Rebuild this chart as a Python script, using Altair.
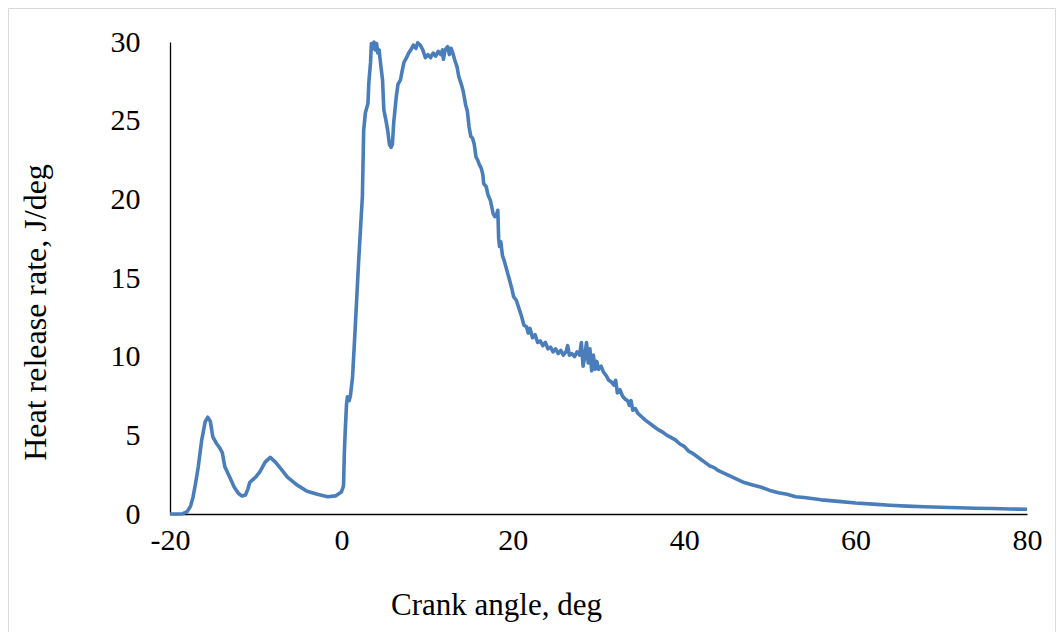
import altair as alt
import pandas as pd

crank_angle = [
    -20, -19, -18.5, -18, -17.6, -17.3, -17.0, -16.7, -16.3, -15.9, -15.6, -15.3, -15.0, -14.6,
    -14.2, -13.9, -13.6, -13.0, -12.5, -12.0, -11.6, -11.2, -10.9, -10.7, -10.4, -10.0, -9.5,
    -8.9, -8.3, -7.7, -7.1, -6.3, -5.2, -4.0, -2.8, -1.6, -0.7, 0.0, 0.2,
    0.25, 0.35, 0.45, 0.6, 0.7, 0.9, 1.05, 1.3, 1.6, 2.0, 2.45, 2.6, 2.8, 3.1, 3.2, 3.4, 3.5,
    3.7, 3.8, 3.95, 4.1, 4.25, 4.4, 4.6, 4.8, 4.95, 5.2, 5.4, 5.6, 5.8, 5.95, 6.1, 6.4, 6.6,
    6.9, 7.1, 7.3, 7.6, 7.85, 8.1, 8.4, 8.7, 8.9, 9.2, 9.5, 9.8, 10.1, 10.4, 10.7, 11.0, 11.3,
    11.6, 11.8, 11.9, 12.1, 12.4, 12.6, 12.8, 13.0, 13.2, 13.5, 13.7, 14.0, 14.2, 14.5, 14.7,
    14.9, 15.1, 15.3, 15.5, 15.7, 15.9, 16.1, 16.3, 16.5, 16.6, 16.9, 17.1, 17.4, 17.7, 17.9,
    18.1, 18.25, 18.35, 18.45, 18.6, 18.8, 19.0, 19.3, 19.6, 19.9, 20.1, 20.4, 20.7, 21.0,
    21.3, 21.6, 21.8, 22.0, 22.3, 22.6, 22.9, 23.2, 23.5, 23.8, 24.1, 24.4, 24.7, 25.0, 25.3,
    25.6, 25.9, 26.2, 26.4, 26.6, 26.9, 27.2, 27.5, 27.8, 28.0, 28.2, 28.4, 28.6, 28.8, 29.0,
    29.2, 29.4, 29.6, 29.8, 30.0, 30.3, 30.6, 30.9, 31.2, 31.5, 31.8, 32.0, 32.2, 32.5, 32.8,
    33.1, 33.4, 33.6, 33.8, 34.0, 34.3, 34.6, 35.0, 35.5, 36.0, 36.5, 37.0, 37.5, 38.0, 38.5,
    39.0, 39.5, 40.0, 40.5, 41.0, 41.5, 42.0, 42.5, 43.0, 43.5, 44.0, 45.0, 46.0, 47.0, 48.0,
    49.0, 50.0, 51.0, 52.0, 53.0, 54.0, 56.0, 58.0, 60.0, 62.0, 64.0, 66.0, 68.0, 70.0, 72.0,
    74.0, 76.0, 78.0, 80.0,
]

heat_release = [
    0, 0, 0.02, 0.15, 0.5, 1.1, 2.0, 3.0, 4.7, 5.85, 6.15, 5.9, 4.9, 4.5,
    4.2, 3.9, 3.0, 2.3, 1.7, 1.3, 1.15, 1.2, 1.6, 2.0, 2.15, 2.35, 2.7,
    3.3, 3.6, 3.3, 2.9, 2.35, 1.85, 1.45, 1.25, 1.1, 1.15, 1.4, 1.7,
    1.85, 4.0, 5.3, 7.0, 7.45, 7.2, 7.5, 8.7, 11.7, 15.95, 20.2, 24.4, 25.5, 26.1, 27.4, 28.7, 29.9,
    29.6, 30.0, 29.5, 29.9, 29.3, 29.5, 28.5, 27.6, 25.7, 25.0, 24.4, 23.5, 23.3, 23.5, 24.85, 26.5, 27.3,
    27.6, 28.2, 28.7, 29.0, 29.3, 29.5, 29.8, 29.6, 29.95, 29.8, 29.5, 29.0, 29.2, 29.0, 29.3, 29.1, 29.4,
    29.2, 29.5, 28.9, 29.5, 29.7, 29.2, 29.6, 29.3, 28.9, 28.4, 27.8, 27.3, 26.9, 26.0, 25.6,
    24.6, 24.0, 23.9, 23.5, 22.7, 22.5, 22.2, 22.0, 21.6, 21.0, 20.8, 20.3, 19.9, 19.1, 18.9,
    19.0, 19.3, 17.5, 17.0, 17.3, 16.4, 16.1, 15.5, 14.9, 14.3, 13.8, 13.6, 13.1, 12.6,
    12.0, 11.9, 11.5, 11.8, 11.2, 11.4, 10.9, 11.0, 10.7, 10.9, 10.5, 10.6, 10.3, 10.5, 10.2,
    10.4, 10.1, 10.3, 10.7, 10.1, 10.2, 10.0, 10.3, 10.1, 10.9, 9.4, 10.0, 10.9, 9.6, 10.5,
    9.1, 10.1, 9.2, 9.7, 9.2, 9.4, 9.0, 8.8, 8.5, 8.4, 8.2, 8.5, 7.7, 7.9, 7.5,
    7.3, 7.2, 6.9, 7.2, 6.6, 6.7, 6.4, 6.2, 5.95, 5.75, 5.55, 5.35, 5.2, 5.0, 4.85,
    4.7, 4.45, 4.3, 4.0, 3.85, 3.65, 3.45, 3.25, 3.05, 2.95, 2.75, 2.5, 2.25, 2.0, 1.85,
    1.7, 1.5, 1.35, 1.25, 1.1, 1.05, 0.9, 0.8, 0.7, 0.63, 0.56, 0.5, 0.46, 0.43, 0.4,
    0.37, 0.35, 0.32, 0.3,
]

x_ticks = [-20, 0, 20, 40, 60, 80]
y_ticks = [0, 5, 10, 15, 20, 25, 30]

df = pd.DataFrame({"angle": crank_angle, "hrr": heat_release, "order": list(range(len(crank_angle)))})

FONT = "Liberation Serif"
W, H = 857, 472

line = alt.Chart(df).mark_line(color="#4a7ebb", strokeWidth=3.6, strokeJoin="round").encode(
    x=alt.X(
        "angle:Q",
        scale=alt.Scale(domain=[-20, 80], nice=False, zero=False),
        axis=alt.Axis(
            values=x_ticks, title="Crank angle, deg", grid=False, ticks=False, tickSize=0,
            domainColor="black", domainWidth=1.3, labelFont=FONT, labelFontSize=30,
            labelColor="black", labelPadding=26, labelBaseline="middle", labelFlush=False,
            labelExpr="'' + datum.value",
            titleFont=FONT, titleFontSize=31, titleFontWeight="normal", titleColor="black",
            titleX=326, titleY=91, titleBaseline="middle", titleAnchor="middle",
        ),
    ),
    y=alt.Y(
        "hrr:Q",
        scale=alt.Scale(domain=[0, 30], nice=False),
        axis=alt.Axis(
            values=y_ticks, title="Heat release rate, J/deg", grid=False, ticks=False, tickSize=0,
            domainColor="black", domainWidth=1.3, labelFont=FONT, labelFontSize=30,
            labelColor="black", labelPadding=30, labelFlush=False,
            titleFont=FONT, titleFontSize=32, titleFontWeight="normal", titleColor="black",
            titleX=-135, titleY=270, titleAngle=-90, titleBaseline="middle", titleAnchor="middle",
        ),
    ),
    order="order:Q",
)

frame = alt.Chart(alt.Data(values=[{"k": 1}])).mark_rect(
    fill="white", fillOpacity=0, stroke="#d9d9d9", strokeWidth=1
).encode(
    x=alt.value(-161.5), x2=alt.value(885.5), y=alt.value(-33.5), y2=alt.value(640)
)

chart = alt.layer(frame, line).properties(
    width=W, height=H,
    autosize=alt.AutoSizeParams(type="none"),
    padding={"left": 162, "top": 34, "right": 29, "bottom": 118},
    background="white",
).configure_view(stroke=None)

chart.save("out.html", embed_options={"renderer": "svg", "actions": False})
